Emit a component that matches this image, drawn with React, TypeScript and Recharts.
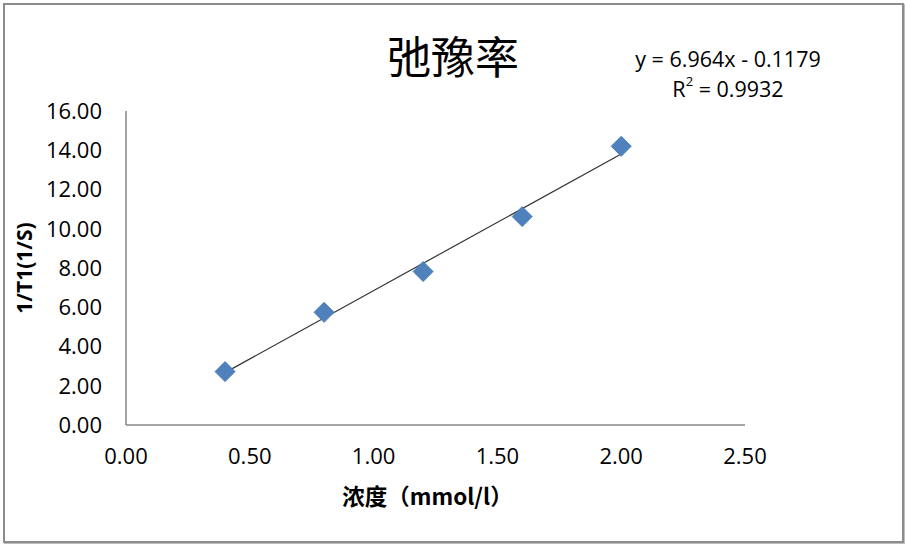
import React from "react";
import { ScatterChart, Scatter, XAxis, YAxis, ReferenceLine, Label } from "recharts";

const concentrations = [0.4, 0.8, 1.2, 1.6, 2.0];
const relaxRates = [2.72, 5.74, 7.82, 10.62, 14.2];
const xTicks = [0, 0.5, 1, 1.5, 2, 2.5];
const yTicks = [0, 2, 4, 6, 8, 10, 12, 14, 16];
const slope = 6.964;
const intercept = -0.1179;
const rSquared = "0.9932";

const points = concentrations.map((x, i) => ({ x, y: relaxRates[i] }));
const xFirst = concentrations[0];
const xLast = concentrations[concentrations.length - 1];
const trend = [
  { x: xFirst, y: slope * xFirst + intercept },
  { x: xLast, y: slope * xLast + intercept },
];

const FONT = "'Open Sans', sans-serif";
const CJK = "'Noto Sans CJK SC', sans-serif";

const Diamond = (props: any) => {
  const { cx, cy } = props;
  const r = 10;
  return (
    <polygon
      points={`${cx},${cy - r} ${cx + r},${cy} ${cx},${cy + r} ${cx - r},${cy}`}
      fill="#4F81BD"
      stroke="#4A7EBB"
      strokeWidth={1}
    />
  );
};

export default function App() {
  return (
    <div style={{ position: "absolute", left: 0, top: 0, width: 907, height: 546, background: "#fff" }}>
      <div
        style={{
          position: "absolute",
          left: 3,
          top: 3,
          width: 897,
          height: 536,
          border: "2px solid #8c8c8c",
          boxShadow: "1px 1px 0 #bdbdbd",
        }}
      />
      <div style={{ position: "absolute", left: 0, top: 0 }}>
        <ScatterChart width={907} height={546} margin={{ top: 111, right: 162, bottom: 91, left: 26 }}>
          <text x={453} y={55} textAnchor="middle" dominantBaseline="central" fontFamily={CJK} fontSize={44} fill="#000">
            弛豫率
          </text>
          <text x={728} y={58} textAnchor="middle" dominantBaseline="central" fontFamily={FONT} fontSize={21.5} fill="#000">
            {`y = ${slope}x - ${Math.abs(intercept)}`}
          </text>
          <text x={728} y={88} textAnchor="middle" dominantBaseline="central" fontFamily={FONT} fontSize={21.5} fill="#000">
            R<tspan dy={-7} fontSize={13}>2</tspan>
            <tspan dy={7}>{` = ${rSquared}`}</tspan>
          </text>
          <XAxis
            type="number"
            dataKey="x"
            domain={[0, 2.5]}
            ticks={xTicks}
            height={30}
            tickLine={false}
            tickMargin={17}
            axisLine={{ stroke: "#868686", strokeWidth: 1.5 }}
            tick={{ fill: "#000", fontSize: 22, fontFamily: FONT }}
            tickFormatter={(v: number) => v.toFixed(2)}
          >
            <Label
              value="浓度（mmol/l）"
              position="bottom"
              offset={34}
              dx={-8}
              style={{ fontFamily: CJK, fontSize: 22.5, fontWeight: 700, fill: "#000" }}
            />
          </XAxis>
          <YAxis
            type="number"
            dataKey="y"
            domain={[0, 16]}
            ticks={yTicks}
            width={100}
            tickLine={false}
            tickMargin={18}
            axisLine={{ stroke: "#868686", strokeWidth: 1.5 }}
            tick={{ fill: "#000", fontSize: 22, fontFamily: FONT }}
            tickFormatter={(v: number) => v.toFixed(2)}
          >
            <Label
              value="1/T1(1/S)"
              angle={-90}
              position="insideLeft"
              offset={-1}
              style={{ fontFamily: FONT, fontSize: 21, fontWeight: 700, fill: "#000", textAnchor: "middle" }}
            />
          </YAxis>
          <Scatter data={points} shape={<Diamond />} isAnimationActive={false} />
          <ReferenceLine segment={trend} stroke="#333" strokeWidth={1.2} ifOverflow="visible" />
        </ScatterChart>
      </div>
    </div>
  );
}
